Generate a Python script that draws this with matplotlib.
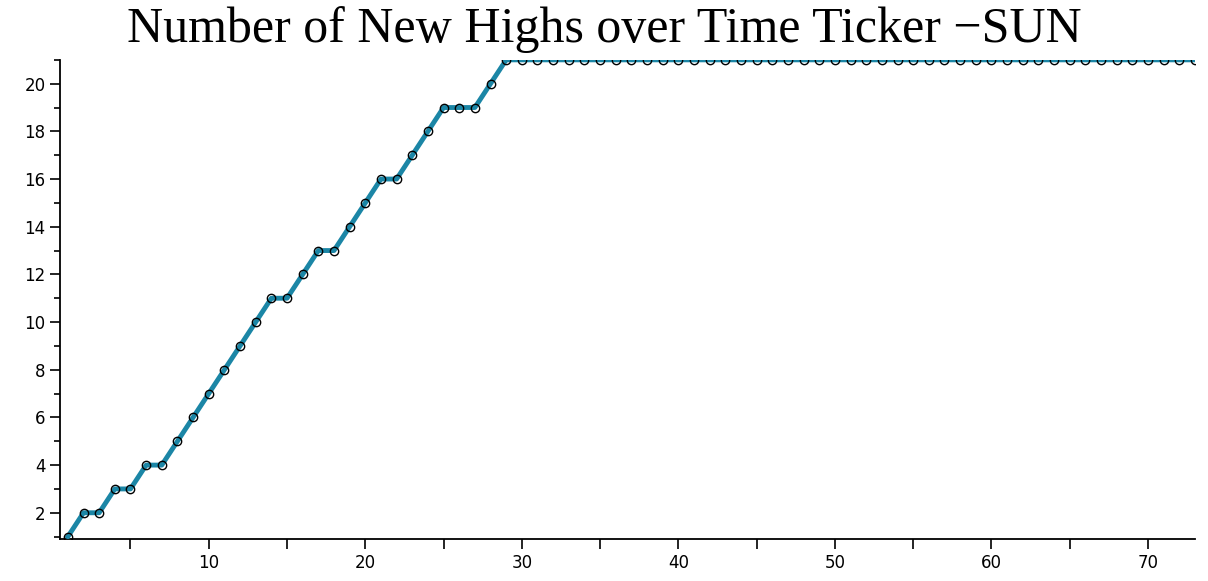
import matplotlib.pyplot as plt
import numpy as np
from matplotlib.ticker import MultipleLocator

# Running count of new highs for ticker SUN
days = np.arange(1, 74)
new_highs = [1, 2, 2, 3, 3, 4, 4, 5, 6, 7,
             8, 9, 10, 11, 11, 12, 13, 13, 14, 15,
             16, 16, 17, 18, 19, 19, 19, 20, 21] + [21] * 44

fig = plt.figure(figsize=(12.08, 5.81), dpi=100)
ax = fig.add_axes([0.0497, 0.0723, 0.9395, 0.8247])

ax.plot(days, new_highs, color='#1b86a6', lw=3.5, solid_joinstyle='round',
        marker='o', ms=6, mfc='none', mec='black', mew=1.0, zorder=3)

ax.set_xlim(0.5, 73)
ax.set_ylim(0.9, 21)

ax.xaxis.set_minor_locator(MultipleLocator(5))
ax.yaxis.set_minor_locator(MultipleLocator(1))
ax.set_yticks(np.arange(2, 21, 2))
ax.set_xticks(np.arange(10, 71, 10))

for side in ('top', 'right'):
    ax.spines[side].set_visible(False)
for side in ('left', 'bottom'):
    ax.spines[side].set_linewidth(1.3)

ax.tick_params(which='both', direction='out', width=1.2, labelsize=12,
               colors='black')
ax.tick_params(which='major', length=7)
ax.tick_params(axis='x', which='minor', length=7)
ax.tick_params(axis='y', which='minor', length=4)

fig.text(0.5, 1 - 42 / 581, 'Number of New Highs over Time Ticker \u2212SUN',
         family='Liberation Serif', fontsize=36, ha='center', va='baseline')

fig.savefig('out.png', dpi=100, facecolor='white')
